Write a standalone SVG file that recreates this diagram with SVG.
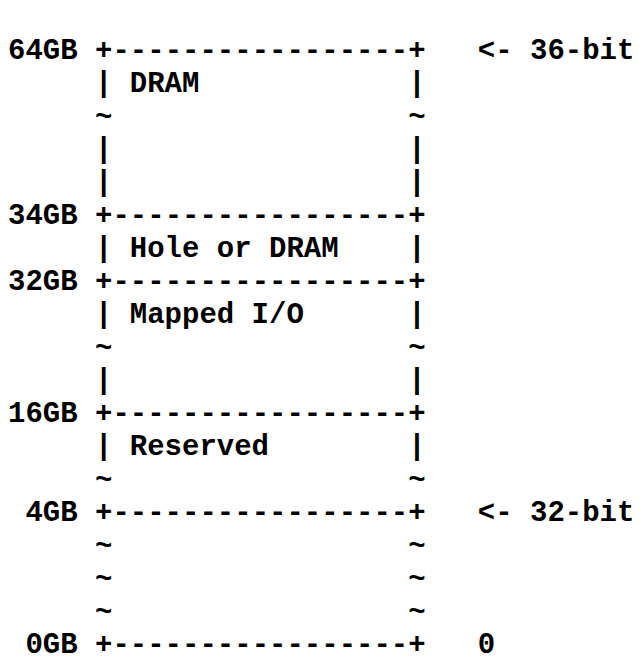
<svg xmlns="http://www.w3.org/2000/svg" width="643" height="663" viewBox="0 0 643 663">
  <style>
    .t { font-family: "Liberation Mono", "DejaVu Sans Mono", monospace; font-size: 29px; font-weight: bold; fill: #000; }
  </style>
  <rect width="643" height="663" fill="#fff"/>
  <!-- physical address map, fixed-width columns of 17.4px starting at x=8 -->
  <g id="boundaries" class="t">
    <text x="8" y="59">64GB +-----------------+</text>
    <text x="477.8" y="59">&lt;- 36-bit</text>
    <text x="8" y="224">34GB +-----------------+</text>
    <text x="8" y="290">32GB +-----------------+</text>
    <text x="8" y="422">16GB +-----------------+</text>
    <text x="25.4" y="521">4GB +-----------------+</text>
    <text x="477.8" y="521">&lt;- 32-bit</text>
    <text x="25.4" y="653">0GB +-----------------+</text>
    <text x="477.8" y="653">0</text>
  </g>
  <g id="labels" class="t">
    <text x="129.8" y="92">DRAM</text>
    <text x="129.8" y="257">Hole or DRAM</text>
    <text x="129.8" y="323">Mapped I/O</text>
    <text x="129.8" y="455">Reserved</text>
  </g>
  <!-- side walls: bars and tildes at columns 5 and 23 -->
  <g id="walls" class="t">
    <text x="95" y="92">|</text><text x="408.2" y="92">|</text>
    <text x="95" y="125">~</text><text x="408.2" y="125">~</text>
    <text x="95" y="158">|</text><text x="408.2" y="158">|</text>
    <text x="95" y="191">|</text><text x="408.2" y="191">|</text>
    <text x="95" y="257">|</text><text x="408.2" y="257">|</text>
    <text x="95" y="323">|</text><text x="408.2" y="323">|</text>
    <text x="95" y="356">~</text><text x="408.2" y="356">~</text>
    <text x="95" y="389">|</text><text x="408.2" y="389">|</text>
    <text x="95" y="455">|</text><text x="408.2" y="455">|</text>
    <text x="95" y="488">~</text><text x="408.2" y="488">~</text>
    <text x="95" y="554">~</text><text x="408.2" y="554">~</text>
    <text x="95" y="587">~</text><text x="408.2" y="587">~</text>
    <text x="95" y="620">~</text><text x="408.2" y="620">~</text>
  </g>
</svg>
